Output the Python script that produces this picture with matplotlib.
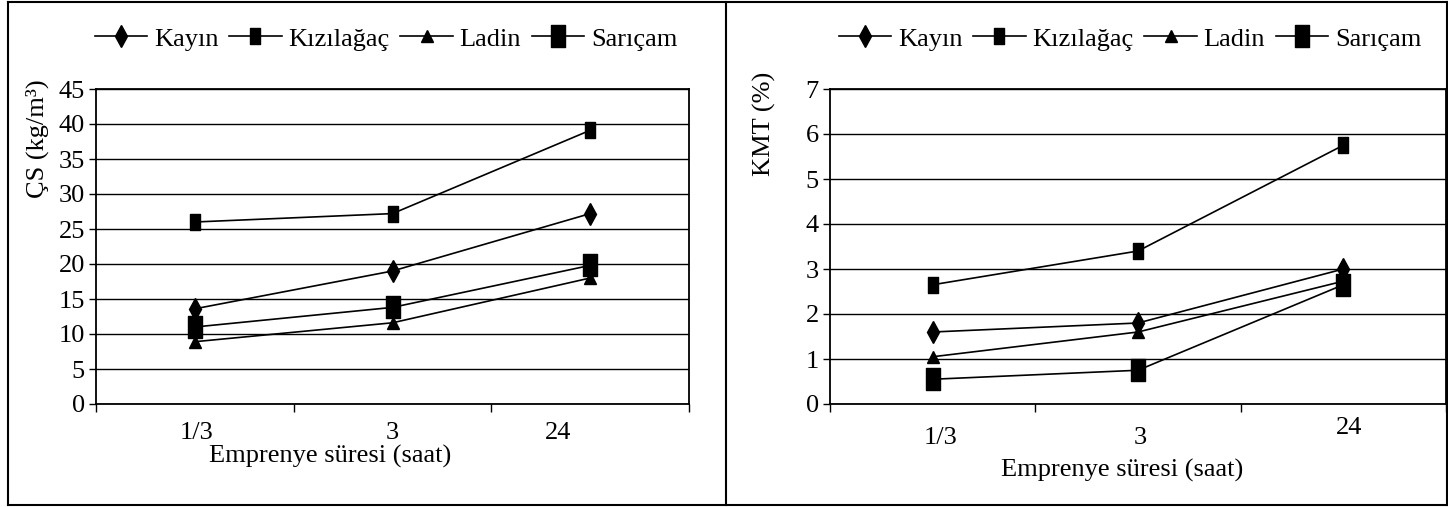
import matplotlib.pyplot as plt
from matplotlib.lines import Line2D
from matplotlib.path import Path

plt.rcParams['font.family'] = ['Liberation Serif', 'DejaVu Serif']
plt.rcParams['font.size'] = 19

# Data
sureler = ['1/3', '3', '24']
seriler = ['Kayın', 'Kızılağaç', 'Ladin', 'Sarıçam']

cs_kayin = [13.6, 19.0, 27.2]
cs_kizilagac = [26.0, 27.2, 39.1]
cs_ladin = [8.9, 11.6, 18.0]
cs_saricam = [11.0, 13.8, 19.8]

kmt_kayin = [1.6, 1.8, 3.0]
kmt_kizilagac = [2.65, 3.4, 5.75]
kmt_ladin = [1.05, 1.6, 2.73]
kmt_saricam = [0.55, 0.75, 2.65]

cs_yticks = [0, 5, 10, 15, 20, 25, 30, 35, 40, 45]
kmt_yticks = [0, 1, 2, 3, 4, 5, 6, 7]

# tall rectangle markers (as in the scanned Excel chart)
rect = Path([(-0.32, -0.5), (0.32, -0.5), (0.32, 0.5), (-0.32, 0.5), (-0.32, -0.5)],
            [Path.MOVETO, Path.LINETO, Path.LINETO, Path.LINETO, Path.CLOSEPOLY])
stil = [dict(marker='d', ms=11),
        dict(marker=rect, ms=11),
        dict(marker='^', ms=8),
        dict(marker=rect, ms=16)]

W, H = 1448, 507
fig = plt.figure(figsize=(W/100, H/100), dpi=100)

ax1 = fig.add_axes([96/W, 1-404/H, 593/W, 315/H])
ax2 = fig.add_axes([830/W, 1-404/H, 616/W, 315/H])

x = [0.5, 1.5, 2.5]


def panel(ax, data, yticks, lab_x, lab_dy, xlab_pos):
    for vals, st, name in zip(data, stil, seriler):
        ax.plot(x, vals, color='k', lw=1.2, mfc='k', mec='k', label=name, **st)
    ax.set_xlim(0, 3)
    ax.set_ylim(yticks[0], yticks[-1])
    ax.set_yticks(yticks)
    ax.set_xticks([0, 1, 2, 3])
    ax.set_xticklabels([])
    ax.yaxis.grid(True, color='k', lw=1.0)
    ax.set_axisbelow(True)
    ax.tick_params(axis='y', direction='out', length=5, width=1, pad=3)
    ax.tick_params(axis='x', direction='out', length=6, width=1)
    for sp in ax.spines.values():
        sp.set_linewidth(1.3)
    for xi, dy, lab in zip(lab_x, lab_dy, sureler):
        ax.annotate(lab, xy=(xi, 0), xycoords=('data', 'axes fraction'),
                    xytext=(0, dy), textcoords='offset points',
                    ha='center', va='center')
    ax.set_xlabel('Emprenye süresi (saat)', va='center')
    ax.xaxis.set_label_coords(*xlab_pos)


panel(ax1, [cs_kayin, cs_kizilagac, cs_ladin, cs_saricam], cs_yticks,
      [0.51, 1.5, 2.34], [-21, -21, -21], (0.395, -0.165))
panel(ax2, [kmt_kayin, kmt_kizilagac, kmt_ladin, kmt_saricam], kmt_yticks,
      [0.54, 1.51, 2.53], [-24.5, -24.5, -17.5], (0.474, -0.21))

fig.text(37/W, 1-139/H, 'ÇS (kg/m³)', rotation=90, ha='center', va='center')
fig.text(764/W, 1-124/H, 'KMT (%)', rotation=90, ha='center', va='center')

for ax, cx in [(ax1, 386), (ax2, 1130)]:
    ax.legend(loc='center', bbox_to_anchor=(cx/W, 1-39/H), bbox_transform=fig.transFigure,
              ncol=4, frameon=False, handlelength=2.0, handletextpad=0.25,
              columnspacing=0.4, borderpad=0, numpoints=1)

# panel frames
for xs, ys in [([8, 1447], [2, 2]), ([8, 1447], [505, 505]),
               ([8, 8], [2, 505]), ([726, 726], [2, 505]), ([1447, 1447], [2, 505])]:
    fig.add_artist(Line2D([v/W for v in xs], [1-v/H for v in ys], color='k', lw=1.5,
                          transform=fig.transFigure))

fig.savefig('out.png', dpi=100)
